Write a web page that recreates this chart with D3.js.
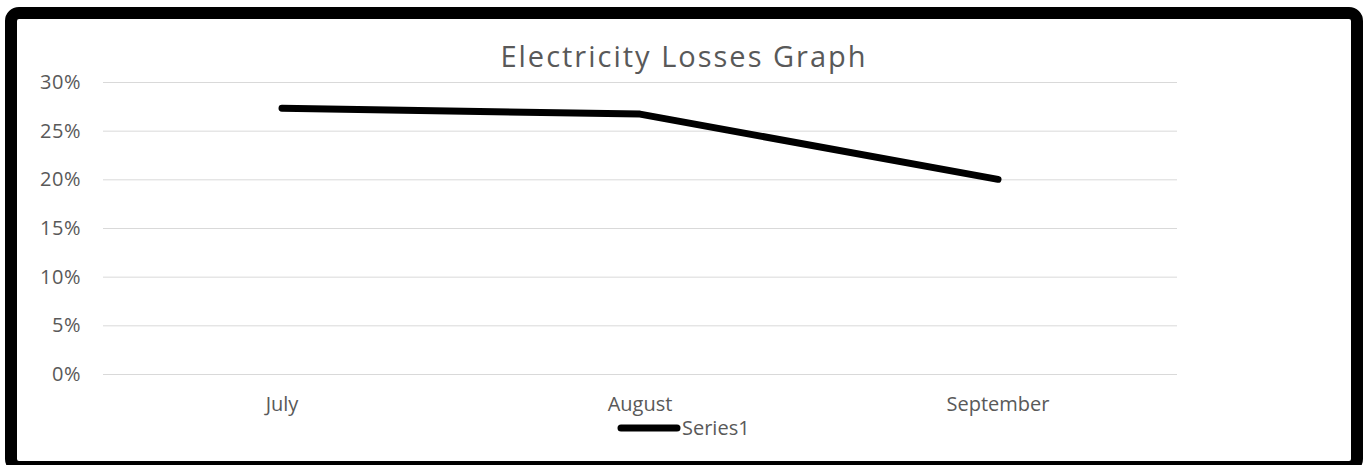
<!DOCTYPE html>
<html>
<head>
<meta charset="utf-8">
<script src="https://cdn.jsdelivr.net/npm/d3@7"></script>
<style>
  body { margin: 0; background: #fff; }
  text { font-family: "Open Sans", Lato, sans-serif; fill: #595959; }
</style>
</head>
<body>
<div id="chart"></div>
<script>
// chart data
const months = ["July", "August", "September"];
const losses = [0.273, 0.267, 0.200];
const yTicks = [0, 0.05, 0.10, 0.15, 0.20, 0.25, 0.30];

const width = 1366, height = 465;
const plot = { left: 103, right: 1177, top: 82, bottom: 374 };

const svg = d3.select("#chart").append("svg")
  .attr("width", width)
  .attr("height", height);

// thick frame round the whole chart
svg.append("rect")
  .attr("x", 11).attr("y", 13)
  .attr("width", 1346).attr("height", 454)
  .attr("rx", 8)
  .attr("fill", "#fff")
  .attr("stroke", "#000")
  .attr("stroke-width", 12);

const x = d3.scaleBand().domain(months).range([plot.left, plot.right]);
const y = d3.scaleLinear().domain([0, 0.30]).range([plot.bottom, plot.top]);

// gridlines + y labels
const yAxis = d3.axisLeft(y)
  .tickValues(yTicks)
  .tickSize(-(plot.right - plot.left))
  .tickPadding(22)
  .tickFormat(d3.format(".0%"));

svg.append("g")
  .attr("transform", `translate(${plot.left},0)`)
  .call(yAxis)
  .call(g => g.select(".domain").remove())
  .call(g => g.selectAll("line").attr("stroke", "#d9d9d9").attr("stroke-width", 1))
  .call(g => g.selectAll("text").attr("font-size", 20).attr("letter-spacing", 0.5).attr("fill", "#595959"));

// category labels
const xAxis = d3.axisBottom(x).tickSize(0).tickPadding(23);
svg.append("g")
  .attr("transform", `translate(0,${plot.bottom})`)
  .call(xAxis)
  .call(g => g.select(".domain").remove())
  .call(g => g.selectAll("text").attr("font-size", 20).attr("fill", "#595959"));

// the series line
const line = d3.line()
  .x((d, i) => x(months[i]) + x.bandwidth() / 2)
  .y(d => y(d));

svg.append("path")
  .datum(losses)
  .attr("d", line)
  .attr("fill", "none")
  .attr("stroke", "#000")
  .attr("stroke-width", 7)
  .attr("stroke-linecap", "round")
  .attr("stroke-linejoin", "round");

// title
svg.append("text")
  .attr("x", 684).attr("y", 67)
  .attr("text-anchor", "middle")
  .attr("font-size", 29)
  .attr("letter-spacing", 2)
  .text("Electricity Losses Graph");

// legend
const legend = svg.append("g").attr("transform", "translate(621,428)");
legend.append("line")
  .attr("x1", 0).attr("x2", 56)
  .attr("stroke", "#000")
  .attr("stroke-width", 7)
  .attr("stroke-linecap", "round");
legend.append("text")
  .attr("x", 61).attr("y", 7)
  .attr("font-size", 20)
  .text("Series1");
</script>
</body>
</html>
